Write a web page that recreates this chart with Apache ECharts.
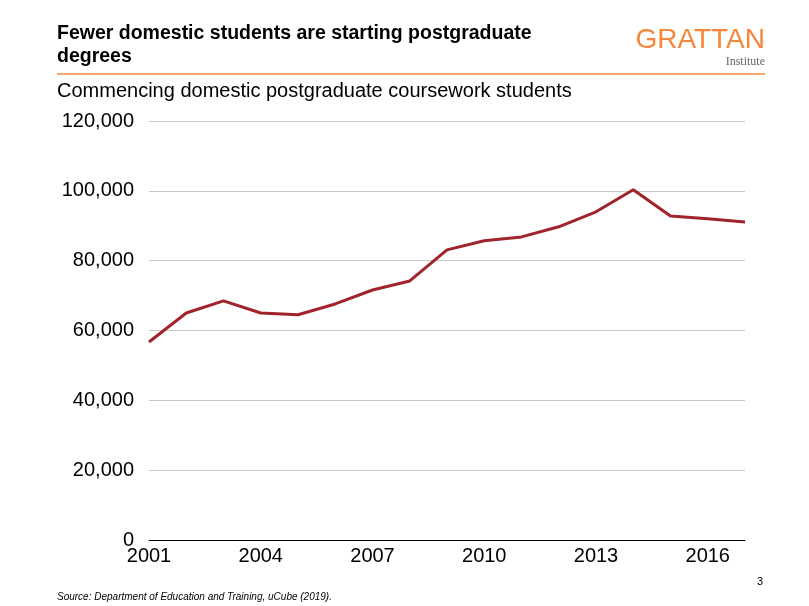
<!DOCTYPE html>
<html><head><meta charset="utf-8">
<script src="https://cdn.jsdelivr.net/npm/echarts@6/dist/echarts.min.js"></script>
<style>html,body{margin:0;padding:0;background:#fff}#c{width:809px;height:606px}</style>
</head><body><div id="c"></div>
<script>
const years = ['2001','2002','2003','2004','2005','2006','2007','2008','2009','2010','2011','2012','2013','2014','2015','2016','2017'];
const students = [56700,65000,68500,65000,64500,67600,71600,74200,83100,85700,86800,89700,94000,100300,92800,92000,91100];
const yTicks = [0,20000,40000,60000,80000,100000,120000];
const chart = echarts.init(document.getElementById('c'));
const F = 'Arial, "Liberation Sans", sans-serif';
chart.setOption({
  animation:false,
  textStyle:{fontFamily:F},
  graphic:[
    {type:'text',left:57,top:22,style:{text:'Fewer domestic students are starting postgraduate\ndegrees',font:'bold 19.5px '+F,fill:'#000',lineHeight:23}},
    {type:'text',right:44,top:26,style:{text:'GRATTAN',font:'28px '+F,fill:'#F5873A'}},
    {type:'text',right:44,top:56,style:{text:'Institute',font:'12px "Liberation Serif", serif',fill:'#666'}},
    {type:'line',shape:{x1:57,y1:74,x2:765,y2:74},style:{stroke:'#F5873A',lineWidth:1.5}},
    {type:'text',left:57,top:81,style:{text:'Commencing domestic postgraduate coursework students',font:'20px '+F,fill:'#000'}},
    {type:'text',left:757,top:576,style:{text:'3',font:'11px '+F,fill:'#000'}},
    {type:'text',left:57,top:592,style:{text:'Source: Department of Education and Training, uCube (2019).',font:'italic 10px '+F,fill:'#000'}}
  ],
  grid:{left:149,right:64,top:121,bottom:66,containLabel:false},
  xAxis:{type:'category',data:years,boundaryGap:false,
    axisLine:{lineStyle:{color:'#000'}},axisTick:{show:false},
    axisLabel:{interval:2,fontSize:20,color:'#000',margin:6,fontFamily:F}},
  yAxis:{type:'value',min:0,max:120000,interval:20000,
    axisLine:{show:false},axisTick:{show:false},
    splitLine:{lineStyle:{color:'#c8c8c8'}},
    axisLabel:{fontSize:20,color:'#000',margin:15,fontFamily:F,
      formatter:v=>yTicks.includes(v)?v.toLocaleString('en-US'):''}},
  series:[{type:'line',data:students,symbol:'none',lineStyle:{color:'#A1232B',width:3}}]
});
</script></body></html>
